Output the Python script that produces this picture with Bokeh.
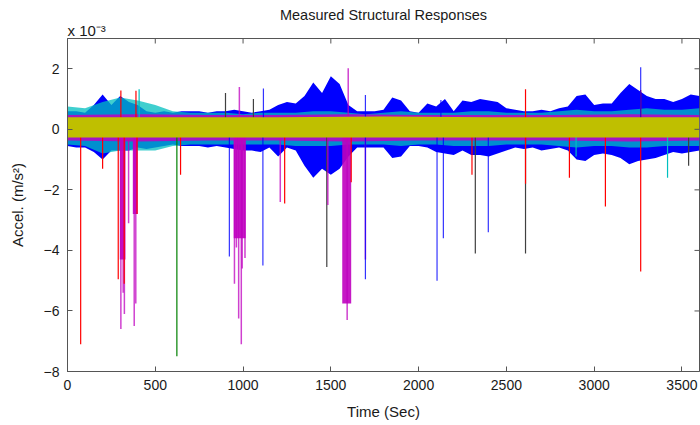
import math
from bokeh.plotting import figure
from bokeh.models import Range1d, FixedTicker, ColumnDataSource, Title
from bokeh.embed import file_html
from bokeh.resources import INLINE

# ---- data (acceleration in units of 1e-3 m/s^2, time in s) ----
x_ticks = [0, 500, 1000, 1500, 2000, 2500, 3000, 3500]
y_ticks = [-8, -6, -4, -2, 0, 2]

blue_t = list(range(0, 3601, 50))
blue_upper = [0.6, 0.6, 0.55, 0.8, 1.15, 0.8, 1.1, 0.9, 0.8, 0.6,
              0.55, 0.6, 0.55, 0.6, 0.6, 0.6, 0.55, 0.6, 0.6, 0.65,
              0.6, 0.55, 0.6, 0.65, 0.8, 0.9, 0.85, 1.1, 1.55, 1.2,
              1.75, 1.5, 0.8, 0.6, 0.6, 0.6, 0.65, 1.05, 0.95, 0.6,
              0.55, 0.85, 0.75, 1.0, 0.6, 0.95, 0.9, 1.0, 0.95, 0.9,
              0.7, 0.65, 0.6, 0.6, 0.65, 0.6, 0.7, 0.75, 1.1, 1.15,
              0.8, 0.85, 0.85, 1.2, 1.5, 1.3, 1.1, 1.0, 1.0, 0.9,
              1.0, 1.15, 1.1]
blue_lower = [-0.55, -0.6, -0.6, -0.75, -1.0, -0.7, -0.7, -0.7, -0.6, -0.65,
              -0.6, -0.55, -0.5, -0.55, -0.55, -0.55, -0.6, -0.55, -0.6, -0.65,
              -0.7, -0.7, -0.75, -0.6, -0.9, -0.6, -0.7, -1.2, -1.6, -1.3,
              -1.5, -1.3, -0.9, -0.6, -0.6, -0.6, -0.6, -0.95, -0.9, -0.55,
              -0.55, -0.6, -0.75, -0.8, -0.85, -0.7, -0.85, -0.85, -0.9, -0.8,
              -0.7, -0.6, -0.65, -0.6, -0.7, -0.65, -0.6, -0.7, -1.0, -1.05,
              -0.85, -0.8, -0.85, -0.95, -1.15, -1.05, -1.0, -0.95, -0.85, -0.75,
              -0.8, -0.75, -0.7]

cyan_t = list(range(0, 3601, 100))
cyan_upper = [0.75, 0.7, 0.9, 1.05, 0.95, 0.8, 0.6, 0.55, 0.55, 0.55,
              0.5, 0.55, 0.55, 0.55, 0.6, 0.6, 0.55, 0.5, 0.55, 0.6,
              0.55, 0.55, 0.55, 0.6, 0.6, 0.55, 0.55, 0.55, 0.6, 0.65,
              0.6, 0.6, 0.65, 0.7, 0.65, 0.65, 0.7]
cyan_lower = [-0.5, -0.55, -0.8, -0.7, -0.7, -0.7, -0.55, -0.5, -0.5, -0.5,
              -0.5, -0.5, -0.5, -0.55, -0.55, -0.55, -0.5, -0.5, -0.5, -0.55,
              -0.5, -0.5, -0.55, -0.55, -0.55, -0.5, -0.5, -0.5, -0.55, -0.6,
              -0.55, -0.55, -0.6, -0.6, -0.55, -0.55, -0.55]

magenta_t = [0, 400, 800, 1200, 1600, 2000, 2400, 2800, 3200, 3600]
magenta_upper = [0.47, 0.5, 0.47, 0.47, 0.5, 0.47, 0.47, 0.47, 0.5, 0.47]
magenta_lower = [-0.37, -0.4, -0.37, -0.37, -0.4, -0.37, -0.37, -0.37, -0.4, -0.37]

yellow_t = [0, 600, 1200, 1800, 2400, 3000, 3600]
yellow_upper = [0.4, 0.4, 0.4, 0.42, 0.4, 0.4, 0.4]
yellow_lower = [-0.27, -0.27, -0.27, -0.27, -0.27, -0.27, -0.27]

# dense magenta bursts: start, end, depth
burst_start = [298, 372, 947, 1565]
burst_end = [330, 400, 1015, 1616]
burst_depth = [-4.3, -2.8, -3.6, -5.75]

# isolated spikes: time, peak value
red_spike_t = [75, 200, 289, 323, 396, 644, 1237, 1616, 2304, 2609, 2859, 3064, 3265,
               304, 390, 2609, 3265]
red_spike_v = [-7.1, -1.3, -4.95, -5.1, -2.8, -1.5, -2.45, -1.75, -1.5, -1.8, -1.6, -2.55, -4.7,
               1.28, 1.27, 1.32, 1.3]
magenta_spike_t = [304, 317, 324, 348, 380, 389, 951, 962, 975, 990, 995, 1011, 1212, 1483,
                   1593, 1697, 979, 1599]
magenta_spike_v = [-6.6, -5.4, -6.1, -3.1, -6.5, -5.75, -5.1, -3.9, -6.25, -7.1, -4.6, -4.25,
                   -2.4, -2.5, -6.3, -4.3, 1.4, 2.02]
green_spike_t = [623]
green_spike_v = [-7.5]
blue_spike_t = [922, 1113, 1697, 2105, 2141, 2397, 1116, 1697, 2127, 3265]
blue_spike_v = [-4.2, -4.5, -4.95, -5.0, -3.6, -3.4, 1.35, 1.13, 0.97, 2.05]
black_spike_t = [1477, 2323, 2609, 3538, 900, 1059]
black_spike_v = [-4.55, -4.1, -4.1, -1.2, 1.2, 1.0]
cyan_spike_t = [2897, 3418, 408]
cyan_spike_v = [-0.9, -1.6, 1.32]

X_MIN, X_MAX = 0, 3600
Y_MIN, Y_MAX = -8, 3

C_B = "#0000FF"
C_G = "#008000"
C_R = "#FF0000"
C_C = "#00BFBF"
C_M = "#BF00BF"
C_Y = "#BFBF00"
C_K = "#404040"
AX = "#555555"
TXT = "#1a1a1a"
FONT = "Liberation Sans"

p = figure(width=700, height=425, x_range=Range1d(X_MIN, X_MAX), y_range=Range1d(Y_MIN, Y_MAX),
           output_backend="svg", toolbar_location=None,
           min_border_left=67, min_border_right=1, min_border_top=38, min_border_bottom=54)
p.title = None
p.xgrid.visible = False
p.ygrid.visible = False
p.outline_line_color = AX
p.background_fill_color = "white"
p.border_fill_color = "white"

p.varea(x=blue_t, y1=blue_lower, y2=blue_upper, fill_color=C_B)
p.varea(x=cyan_t, y1=cyan_lower, y2=cyan_upper, fill_color=C_C, fill_alpha=0.75)
p.varea(x=magenta_t, y1=magenta_lower, y2=magenta_upper, fill_color=C_M, fill_alpha=0.85)


def spikes(ts, vs, color, alpha=1.0, w=1.2):
    src = ColumnDataSource(dict(t=ts, v=vs, z=[0] * len(ts)))
    p.segment(x0="t", y0="z", x1="t", y1="v", source=src, line_color=color,
              line_width=w, line_alpha=alpha)


spikes(black_spike_t, black_spike_v, C_K)
p.quad(left=burst_start, right=burst_end, top=[0] * len(burst_start), bottom=burst_depth,
       fill_color=C_M, fill_alpha=0.9, line_color=None)
spikes(magenta_spike_t, magenta_spike_v, C_M, alpha=0.75, w=1.5)
spikes(red_spike_t, red_spike_v, C_R)
spikes(green_spike_t, green_spike_v, C_G)
spikes(blue_spike_t, blue_spike_v, C_B, alpha=0.8)
spikes(cyan_spike_t, cyan_spike_v, C_C)

p.varea(x=yellow_t, y1=yellow_lower, y2=yellow_upper, fill_color=C_Y)

# inward ticks on the top and right edges of the box
p.ray(x=x_ticks, y=[Y_MAX] * len(x_ticks), length=5, length_units="screen",
      angle=-math.pi / 2, line_color=AX, line_width=1)
p.ray(x=[X_MAX] * len(y_ticks), y=y_ticks, length=5, length_units="screen",
      angle=math.pi, line_color=AX, line_width=1)

# axes
for ax in (p.xaxis[0], p.yaxis[0]):
    ax.axis_line_color = AX
    ax.major_tick_line_color = AX
    ax.major_tick_in = 5
    ax.major_tick_out = 0
    ax.minor_tick_line_color = None
    ax.major_label_text_font = FONT
    ax.major_label_text_font_size = "14px"
    ax.major_label_text_color = TXT
    ax.axis_label_text_font = FONT
    ax.axis_label_text_font_size = "15px"
    ax.axis_label_text_font_style = "normal"
    ax.axis_label_text_color = TXT
    ax.major_label_standoff = 8

p.xaxis[0].ticker = FixedTicker(ticks=x_ticks)
p.yaxis[0].ticker = FixedTicker(ticks=y_ticks)
p.xaxis[0].axis_label = "Time (Sec)"
p.yaxis[0].axis_label = "Accel. (m/s²)"
p.xaxis[0].axis_label_standoff = 10
p.yaxis[0].axis_label_standoff = 15

p.add_layout(Title(text="x 10⁻³", align="left", text_font=FONT, text_font_size="15px",
                   text_font_style="normal", text_color=TXT, standoff=0), "above")
p.add_layout(Title(text="Measured Structural Responses", align="center", text_font=FONT,
                   text_font_size="14.5px", text_font_style="normal", text_color=TXT,
                   standoff=-6), "above")

open("out.html", "w").write(file_html(p, INLINE))
